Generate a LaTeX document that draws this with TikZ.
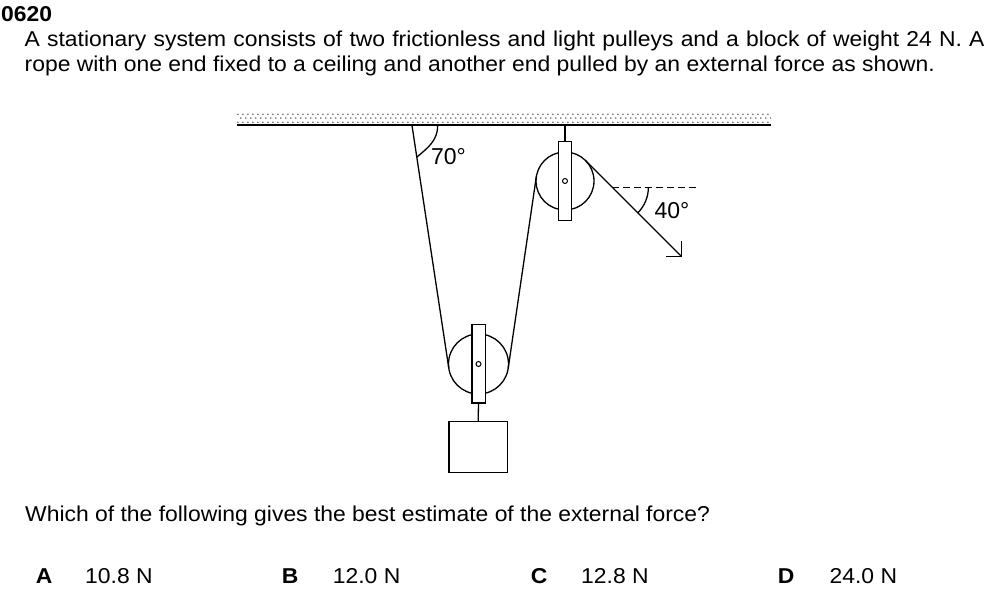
\documentclass[tikz,border=0pt]{standalone}
\usepackage{fontspec}
\setmainfont[FakeStretch=1.065]{Liberation Sans}
\newfontfamily\degfamily{Liberation Sans}
\usetikzlibrary{arrows.meta,calc,patterns}
\definecolor{dotgray}{HTML}{1A1A1A}
\newcommand{\qfont}{\fontsize{21.5}{25}\selectfont}
\newcommand{\degfont}{\degfamily\fontsize{23}{27}\selectfont}
\pgfdeclarepatternformonly{ceildots}{\pgfqpoint{0pt}{0pt}}{\pgfqpoint{5pt}{8pt}}{\pgfqpoint{5pt}{8pt}}{%
  \pgfpathcircle{\pgfqpoint{1pt}{1pt}}{0.8pt}%
  \pgfpathcircle{\pgfqpoint{3.5pt}{5pt}}{0.8pt}%
  \pgfusepath{fill}}

\begin{document}
\begin{tikzpicture}[x=1pt,y=1pt,
  rope/.style={line width=1.3pt},
  wheel/.style={circle, draw, line width=1.3pt, inner sep=0pt, outer sep=0pt, minimum size=#1},
  axle/.style={rectangle, draw, fill=white, line width=1.3pt, inner sep=0pt, outer sep=0pt, minimum width=13.5pt, minimum height=79pt},
  hole/.style={circle, draw, line width=1pt, inner sep=0pt, minimum size=5pt},
  qtext/.style={inner sep=0pt, anchor=base west, font=\qfont},
  degtext/.style={inner sep=0pt, anchor=base west, font=\degfont}]
\useasboundingbox (0,0) rectangle (1001,599);

% question text
\node[qtext, font=\qfont\bfseries] (qnum) at (1,577.3) {0620};
\node[qtext] (stem1) at (24.5,552.3) {\spaceskip=7.2pt plus 1pt A stationary system consists of two frictionless and light pulleys and a block of weight 24 N. A};
\node[qtext] (stem2) at ([yshift=-25pt]stem1.base west) {rope with one end fixed to a ceiling and another end pulled by an external force as shown.};

% ceiling
\coordinate (ceilL) at (237,473.5);
\coordinate (ceilR) at (771,473.5);
\fill[pattern=ceildots, pattern color=dotgray] ([yshift=1.5pt]ceilL) rectangle ([yshift=13.5pt]ceilR);
\draw[line width=2pt] (ceilL) -- (ceilR);
\coordinate (fixpt) at (412,473.5);

% pulleys and block
\node[wheel=58pt] (tp) at (565,418) {};
\node[wheel=60pt] (bp) at (478.5,235) {};
\node[axle] (tpaxle) at (tp.center) {};
\node[axle, minimum width=13.3pt, minimum height=78.3pt] (bpaxle) at (bp.center) {};
\node[hole] (tphole) at (tp.center) {};
\node[hole] (bphole) at (bp.center) {};
\node[draw, line width=1.3pt, minimum width=58.3pt, minimum height=50.6pt, inner sep=0pt] (block) at (478.2,152) {};
\draw[rope] (tpaxle.north) -- (tpaxle.north |- fixpt);
\draw[rope] (bpaxle.south) -- (block.north);

% rope
\draw[rope] (fixpt) -- (bp.188.6);
\draw[rope] (bp.-8.35) -- (tp.171.65);
\coordinate (cross) at ($(tp.45)+(-45:38)$);
\coordinate (tip) at ($(tp.45)+(-45:136.5)$);
\draw[rope, -{Straight Barb[angle=90:15pt]}] (tp.45) -- (tip);
\coordinate (dashend) at ($(cross)+(84,0)$);
\draw[line width=1.3pt, dash pattern=on 7pt off 4pt] (cross) -- (dashend);

% angles
\draw[line width=1.3pt] ($(fixpt)+(25.7,0)$) to[out=-90, in=40] ($(fixpt)!32pt!(bp.188.6)$);
\node[degtext] (deg70) at (430.8,434.3) {70\textdegree};
\draw[line width=1.3pt] ($(cross)+(36,0)$) arc[start angle=0, end angle=-45, radius=36];
\node[degtext] (deg40) at (654.3,380.7) {40\textdegree};

% question and options
\node[qtext] (ask) at (25,77.3) {Which of the following gives the best estimate of the external force?};
\node[qtext, font=\qfont\bfseries] (optA) at (35.7,15.7) {A};
\node[qtext] (valA) at (85,15.7) {10.8 N};
\node[qtext, font=\qfont\bfseries] (optB) at (281.7,15.7) {B};
\node[qtext] (valB) at (332.7,15.7) {12.0 N};
\node[qtext, font=\qfont\bfseries] (optC) at (530.7,15.7) {C};
\node[qtext] (valC) at (581,15.7) {12.8 N};
\node[qtext, font=\qfont\bfseries] (optD) at (777.7,15.7) {D};
\node[qtext] (valD) at (829.4,15.7) {24.0 N};
\end{tikzpicture}
\end{document}
